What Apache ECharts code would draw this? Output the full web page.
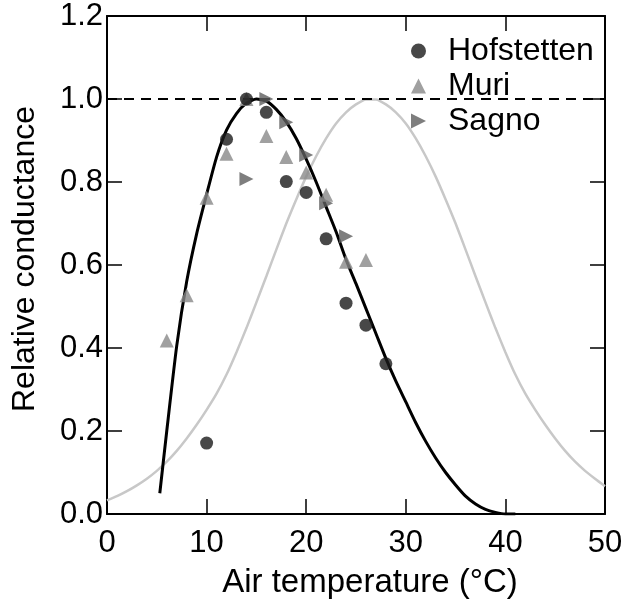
<!DOCTYPE html>
<html>
<head>
<meta charset="utf-8">
<script src="https://cdn.jsdelivr.net/npm/echarts@6/dist/echarts.min.js"></script>
<style>
html,body{margin:0;padding:0;background:#fff;}
#chart{width:627px;height:605px;}
</style>
</head>
<body>
<div id="chart"></div>
<script>
// Observations
const tempHof = [10, 12, 14, 16, 18, 20, 22, 24, 26, 28];
const condHof = [0.171, 0.903, 1.0, 0.968, 0.801, 0.775, 0.663, 0.508, 0.455, 0.362];
const tempMuri = [6, 8, 10, 12, 14, 16, 18, 20, 22, 24, 26];
const condMuri = [0.418, 0.527, 0.762, 0.868, 1.0, 0.911, 0.86, 0.823, 0.769, 0.608, 0.612];
const tempSagno = [14, 16, 18, 20, 22, 24];
const condSagno = [0.807, 1.0, 0.944, 0.865, 0.749, 0.669];

// Black fitted curve
const fitTempA = [5.3, 6, 7, 8, 9, 10, 11, 12, 13, 14, 15, 16, 17, 18, 19, 20, 21, 22, 23, 24, 25, 26, 27, 28, 29, 30, 31, 32, 33, 34, 35, 36, 37, 38, 39, 40, 41];
const fitCondA = [0.05, 0.2, 0.405, 0.56, 0.675, 0.77, 0.86, 0.925, 0.965, 0.99, 1.0, 0.995, 0.975, 0.945, 0.905, 0.855, 0.8, 0.74, 0.68, 0.613, 0.555, 0.495, 0.435, 0.375, 0.32, 0.27, 0.22, 0.175, 0.135, 0.1, 0.07, 0.043, 0.024, 0.011, 0.004, 0.0, 0.0];

// Grey curve
const fitTempB = [0, 1, 2, 3, 4, 5, 6, 7, 8, 9, 10, 11, 12, 13, 14, 15, 16, 17, 18, 19, 20, 21, 22, 23, 24, 25, 26, 27, 28, 29, 30, 31, 32, 33, 34, 35, 36, 37, 38, 39, 40, 41, 42, 43, 44, 45, 46, 47, 48, 49, 50];
const fitCondB = [0.033, 0.043, 0.055, 0.069, 0.085, 0.104, 0.126, 0.152, 0.182, 0.215, 0.251, 0.29, 0.336, 0.39, 0.448, 0.51, 0.573, 0.637, 0.70, 0.758, 0.813, 0.862, 0.905, 0.941, 0.968, 0.987, 0.999, 0.999, 0.987, 0.968, 0.941, 0.905, 0.862, 0.813, 0.758, 0.70, 0.637, 0.573, 0.51, 0.448, 0.39, 0.336, 0.29, 0.251, 0.215, 0.182, 0.152, 0.126, 0.104, 0.085, 0.067];

// Reference line
const refTemp = [0, 50];
const refCond = [1.0, 1.0];

const xTicks = [0, 10, 20, 30, 40, 50];
const yTicks = [0.0, 0.2, 0.4, 0.6, 0.8, 1.0, 1.2];

const zip = (xs, ys) => xs.map((x, i) => [x, ys[i]]);
const FONT = '"Liberation Sans", Arial, sans-serif';

const chart = echarts.init(document.getElementById('chart'), null, {renderer: 'canvas'});

const axisCommon = {
  type: 'value',
  axisLine: {show: true, onZero: false, lineStyle: {color: '#000', width: 2}},
  axisTick: {show: true, inside: true, length: 15, lineStyle: {color: '#000', width: 1.5}},
  splitLine: {show: false}
};

chart.setOption({
  animation: false,
  backgroundColor: '#fff',
  grid: {left: 107, right: 22, top: 16, bottom: 91},
  legend: {
    orient: 'vertical',
    left: 406,
    top: 30,
    itemWidth: 15,
    itemHeight: 15,
    itemGap: 3,
    symbolKeepAspect: true,
    textStyle: {fontFamily: FONT, fontSize: 32, color: '#000', lineHeight: 31, padding: [0, 0, 0, 17]},
    data: [
      {name: 'Hofstetten', icon: 'circle'},
      {name: 'Muri', icon: 'triangle'},
      {name: 'Sagno', icon: 'path://M0,0 L10,5 L0,10 Z'}
    ]
  },
  xAxis: [
    Object.assign({}, axisCommon, {
      position: 'bottom', min: xTicks[0], max: xTicks[xTicks.length - 1], interval: 10,
      name: 'Air temperature (°C)', nameLocation: 'middle', nameGap: 52,
      nameTextStyle: {fontFamily: FONT, fontSize: 33, color: '#000', padding: [0, 0, 0, 28]},
      axisLabel: {fontFamily: FONT, fontSize: 31, color: '#000', margin: 14}
    }),
    Object.assign({}, axisCommon, {
      position: 'top', min: xTicks[0], max: xTicks[xTicks.length - 1], interval: 10,
      axisLabel: {show: false}
    })
  ],
  yAxis: [
    Object.assign({}, axisCommon, {
      position: 'left', min: yTicks[0], max: yTicks[yTicks.length - 1], interval: 0.2,
      name: 'Relative conductance', nameLocation: 'middle', nameGap: 66,
      nameTextStyle: {fontFamily: FONT, fontSize: 32, color: '#000', padding: [0, 0, 0, 12]},
      axisLabel: {fontFamily: FONT, fontSize: 31, color: '#000', margin: 4,
        formatter: v => v.toFixed(1)}
    }),
    Object.assign({}, axisCommon, {
      position: 'right', min: yTicks[0], max: yTicks[yTicks.length - 1], interval: 0.2,
      axisLabel: {show: false}
    })
  ],
  series: [
    {
      name: 'grey fit', type: 'line', data: zip(fitTempB, fitCondB), smooth: 0.2,
      showSymbol: false, lineStyle: {color: '#c8c8c8', width: 2.5}, z: 1, silent: true
    },
    {
      name: 'black fit', type: 'line', data: zip(fitTempA, fitCondA), smooth: 0.2,
      showSymbol: false, lineStyle: {color: '#000', width: 3}, z: 2, silent: true
    },
    {
      name: 'ref', type: 'line', data: zip(refTemp, refCond), showSymbol: false,
      lineStyle: {color: '#000', width: 2, type: [10, 7]}, z: 2, silent: true
    },
    {
      name: 'Hofstetten', type: 'scatter', data: zip(tempHof, condHof),
      symbol: 'circle', symbolSize: 13, itemStyle: {color: '#1a1a1a'}, z: 5
    },
    {
      name: 'Muri', type: 'scatter', data: zip(tempMuri, condMuri),
      symbol: 'triangle', symbolSize: 14, itemStyle: {color: '#888888'}, z: 4
    },
    {
      name: 'Sagno', type: 'scatter', data: zip(tempSagno, condSagno),
      symbol: 'triangle', symbolRotate: -90, symbolSize: 14, itemStyle: {color: '#5e5e5e'}, z: 3
    }
  ]
});
</script>
</body>
</html>
